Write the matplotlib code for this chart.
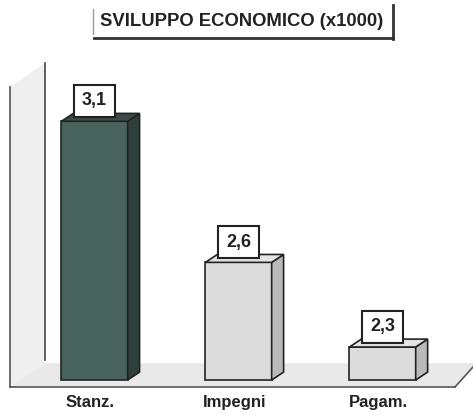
import numpy as np
import matplotlib.pyplot as plt
from matplotlib.patches import Polygon
from matplotlib.lines import Line2D

plt.rcParams['font.family'] = ['Liberation Sans', 'DejaVu Sans']

# data
categories = ['Stanz.', 'Impegni', 'Pagam.']
values = [3.1, 2.6, 2.3]
value_labels = ['3,1', '2,6', '2,3']
title = 'SVILUPPO ECONOMICO (x1000)'

W, H = 473, 415
fig = plt.figure(figsize=(W / 100, H / 100), dpi=100)
fig.patch.set_facecolor('white')


def px(x, y):
    # pixel (from top-left) -> figure fraction
    return x / W, 1 - y / H


# axes mapped over the whole figure
ax = fig.add_axes([0, 0, 1, 1])
ax.set_xlim(-0.656, 2.628)
ax.set_ylim(2.059, 3.530)
ax.axis('off')
ax.patch.set_alpha(0)

# background wall and floor (figure pixel geometry)
wall = [px(10, 87), px(45, 63), px(45, 363), px(10, 387)]
floor = [px(10, 387), px(45, 363), px(473, 363), px(473, 367), px(455, 387)]
ax.add_patch(Polygon(wall, closed=True, transform=fig.transFigure,
                     facecolor='#efefef', edgecolor='none', zorder=0))
ax.add_patch(Polygon(floor, closed=True, transform=fig.transFigure,
                     facecolor='#e9e9e9', edgecolor='none', zorder=0))
for (x1, y1), (x2, y2), lw, c in [((10, 87), (10, 387), 1.2, '#555555'),
                                  ((45, 63), (45, 360), 1.2, '#444444'),
                                  ((10, 387), (455, 387), 1.2, '#555555'),
                                  ((455, 387), (473, 367), 1.2, '#555555'),
                                  ((93, 9), (93, 34), 1.0, '#999999'),
                                  ((393, 5), (393, 39), 2.0, '#333333'),
                                  ((94, 38), (393, 38), 2.0, '#333333')]:
    a, b = px(x1, y1), px(x2, y2)
    ax.add_line(Line2D([a[0], b[0]], [a[1], b[1]], transform=fig.transFigure,
                       color=c, lw=lw, zorder=1))

fig.text(242 / W, 1 - 22 / H, title, ha='center', va='center',
         fontsize=13.3, fontweight='bold', color='#222222')

base = 2.183
width = 0.46
dx, dy = 0.083, 0.028
front_cols = ['#48635c', '#dcdcdc', '#dcdcdc']
side_cols = ['#2f403c', '#b9b9b9', '#b9b9b9']
top_cols = ['#3a4b47', '#e4e4e4', '#e4e4e4']

x = np.arange(len(categories))
ax.bar(x, np.array(values) - base, width=width, bottom=base, color=front_cols,
       edgecolor='#222222', linewidth=1.2, zorder=3)
for i, v in enumerate(values):
    l, r = i - width / 2, i + width / 2
    side = [(r, base), (r + dx, base + dy), (r + dx, v + dy), (r, v)]
    top = [(l, v), (l + dx, v + dy), (r + dx, v + dy), (r, v)]
    ax.add_patch(Polygon(side, closed=True, facecolor=side_cols[i],
                         edgecolor='#222222', lw=1.2, zorder=3))
    ax.add_patch(Polygon(top, closed=True, facecolor=top_cols[i],
                         edgecolor='#222222', lw=1.2, zorder=3))
    ax.text(i, v + 0.072, value_labels[i], ha='center', va='center',
            fontsize=13, fontweight='bold', color='#222222', zorder=5,
            bbox=dict(boxstyle='square,pad=0.42', facecolor='white',
                      edgecolor='#222222', linewidth=1.5))
    ax.text(i - 0.03, base - 0.08, categories[i], ha='center', va='center',
            fontsize=12, fontweight='bold', color='#222222')

fig.savefig('out.png', dpi=100, facecolor='white')
